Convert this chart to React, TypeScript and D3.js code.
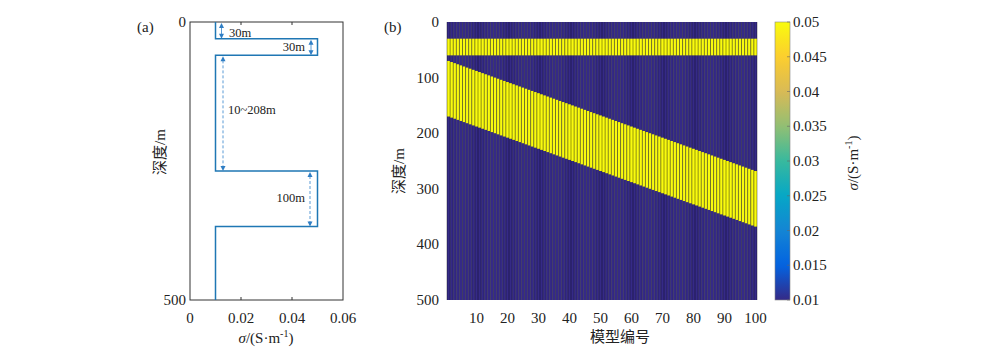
import React from "react";
import * as d3 from "d3";

// layered model (panel a): depth intervals and conductivity
const profileDepths = [0, 30, 30, 60, 60, 268, 268, 368, 368, 500];
const profileSigma = [0.01, 0.01, 0.05, 0.05, 0.01, 0.01, 0.05, 0.05, 0.01, 0.01];

const sigmaTicks = [0, 0.02, 0.04, 0.06];
const depthTicksA = [0, 500];
const depthTicksB = [0, 100, 200, 300, 400, 500];
const modelTicks = [10, 20, 30, 40, 50, 60, 70, 80, 90, 100];
const cbarTicks = [0.01, 0.015, 0.02, 0.025, 0.03, 0.035, 0.04, 0.045, 0.05];

// panel b: layer 1 fixed, layer 2 below a gap that grows with the model number
const layer1Top = 30;
const layer1Bottom = 60;
const layer2Thickness = 100;
const gaps = [
  10, 12, 14, 16, 18, 20, 22, 24, 26, 28, 30, 32, 34, 36, 38, 40, 42, 44, 46, 48,
  50, 52, 54, 56, 58, 60, 62, 64, 66, 68, 70, 72, 74, 76, 78, 80, 82, 84, 86, 88,
  90, 92, 94, 96, 98, 100, 102, 104, 106, 108, 110, 112, 114, 116, 118, 120, 122, 124, 126, 128,
  130, 132, 134, 136, 138, 140, 142, 144, 146, 148, 150, 152, 154, 156, 158, 160, 162, 164, 166, 168,
  170, 172, 174, 176, 178, 180, 182, 184, 186, 188, 190, 192, 194, 196, 198, 200, 202, 204, 206, 208,
];
const sigmaBg = 0.01;
const sigmaLayer = 0.05;

// parula stops
const parula = [
  "#352a87", "#0363e1", "#1485d4", "#06a7c6", "#38b99e",
  "#92bf73", "#d9ba56", "#fcce2e", "#f9fb0e",
];

const serif = "'Liberation Serif', 'Times New Roman', serif";
const cjk = "'Liberation Serif', 'Noto Sans CJK SC', serif";
const lineBlue = "#1f77b4";

function SigmaLabel({ x, y, rotate = 0 }: { x: number; y: number; rotate?: number }) {
  return (
    <text
      transform={`translate(${x},${y}) rotate(${rotate})`}
      textAnchor="middle"
      fontFamily={serif}
      fontSize={15}
      fill="#222"
    >
      <tspan fontStyle="italic">σ</tspan>
      <tspan>/(S·m</tspan>
      <tspan fontSize={10} dy={-6}>-1</tspan>
      <tspan dy={6}>)</tspan>
    </text>
  );
}

function Arrow({ x, y1, y2, dashed }: { x: number; y1: number; y2: number; dashed?: boolean }) {
  return (
    <g>
      <line
        x1={x}
        x2={x}
        y1={y1 + 4}
        y2={y2 - 4}
        stroke="#5b9bd5"
        strokeWidth={1}
        strokeDasharray={dashed ? "3,2" : undefined}
      />
      <path d={`M${x},${y1} L${x - 2.5},${y1 + 5} L${x + 2.5},${y1 + 5} Z`} fill="#2f7ec4" />
      <path d={`M${x},${y2} L${x - 2.5},${y2 - 5} L${x + 2.5},${y2 - 5} Z`} fill="#2f7ec4" />
    </g>
  );
}

function PanelA() {
  const x = d3.scaleLinear([0, 0.06], [190, 343]);
  const y = d3.scaleLinear([0, 500], [22, 300]);
  const line = d3
    .line<number>()
    .x((_, i) => x(profileSigma[i]))
    .y((d) => y(d));

  return (
    <g>
      <rect x={190} y={22} width={153} height={278} fill="#fff" stroke="#333" strokeWidth={1} />
      {sigmaTicks.slice(1, -1).map((t) => (
        <g key={t}>
          <line x1={x(t)} x2={x(t)} y1={300} y2={297} stroke="#333" />
          <line x1={x(t)} x2={x(t)} y1={22} y2={25} stroke="#333" />
        </g>
      ))}
      <path d={line(profileDepths) ?? ""} fill="none" stroke={lineBlue} strokeWidth={1.5} />

      <Arrow x={221.5} y1={y(0) + 1} y2={y(30)} />
      <Arrow x={311} y1={y(30) + 1} y2={y(60)} />
      <Arrow x={223} y1={y(60) + 1} y2={y(268)} dashed />
      <Arrow x={310} y1={y(268) + 1} y2={y(368)} dashed />
      <g fontFamily={serif} fontSize={12.5} fill="#222">
        <text x={229} y={37}>30m</text>
        <text x={305} y={51} textAnchor="end">30m</text>
        <text x={228} y={114}>10~208m</text>
        <text x={305} y={202} textAnchor="end">100m</text>
      </g>

      <g fontFamily={serif} fontSize={15} fill="#222">
        {sigmaTicks.map((t) => (
          <text key={t} x={x(t)} y={323} textAnchor="middle">{t}</text>
        ))}
        {depthTicksA.map((t) => (
          <text key={t} x={186} y={y(t) + 5} textAnchor="end">{t}</text>
        ))}
        <text x={137} y={32}>(a)</text>
      </g>
      <text
        transform="translate(165,152) rotate(-90)"
        textAnchor="middle"
        fontFamily={cjk}
        fontSize={15}
        fill="#222"
      >
        深度/m
      </text>
      <SigmaLabel x={266} y={343} />
    </g>
  );
}

function PanelB() {
  const x = d3.scaleLinear([0.5, 100.5], [447, 757]);
  const y = d3.scaleLinear([0, 500], [22, 300]);
  const color = d3
    .scaleLinear<string>()
    .domain(parula.map((_, i) => 0.01 + (0.04 * i) / (parula.length - 1)))
    .range(parula)
    .interpolate(d3.interpolateRgb)
    .clamp(true);
  const cy = d3.scaleLinear([0.01, 0.05], [300, 22]);
  const models = gaps.map((g, i) => {
    const top2 = layer1Bottom + g;
    return { id: i + 1, layers: [[layer1Top, layer1Bottom], [top2, top2 + layer2Thickness]] };
  });
  const cw = x(2) - x(1);
  const gradStops = d3.range(0, 1.0001, 0.02);

  return (
    <g>
      <defs>
        <linearGradient id="parula" x1="0" y1="1" x2="0" y2="0">
          {gradStops.map((s) => (
            <stop key={s} offset={s} stopColor={color(0.01 + 0.04 * s)} />
          ))}
        </linearGradient>
      </defs>
      {models.map((m) => (
        <g key={m.id}>
          <rect x={x(m.id) - cw / 2} y={22} width={cw} height={278} fill={color(sigmaBg)} />
          {m.layers.map(([a, b], k) => (
            <rect key={k} x={x(m.id) - cw / 2} y={y(a)} width={cw} height={y(b) - y(a)} fill={color(sigmaLayer)} />
          ))}
        </g>
      ))}
      {models.map((m) => (
        <line
          key={m.id}
          x1={x(m.id) - cw / 2}
          x2={x(m.id) - cw / 2}
          y1={22}
          y2={300}
          stroke="#000"
          strokeOpacity={0.55}
          strokeWidth={0.7}
        />
      ))}
      <line x1={757} x2={757} y1={22} y2={300} stroke="#000" strokeOpacity={0.55} strokeWidth={0.7} />

      <g fontFamily={serif} fontSize={15} fill="#222">
        {modelTicks.map((t) => (
          <text key={t} x={x(t)} y={323} textAnchor="middle">{t}</text>
        ))}
        {depthTicksB.map((t) => (
          <text key={t} x={439} y={y(t) + 5} textAnchor="end">{t}</text>
        ))}
        <text x={384} y={32}>(b)</text>
      </g>
      <text
        transform="translate(404,171) rotate(-90)"
        textAnchor="middle"
        fontFamily={cjk}
        fontSize={15}
        fill="#222"
      >
        深度/m
      </text>
      <text x={620} y={342} textAnchor="middle" fontFamily={cjk} fontSize={15} fill="#222">
        模型编号
      </text>

      {/* colorbar */}
      <rect x={775} y={22} width={15} height={278} fill="url(#parula)" stroke="#888" strokeWidth={0.6} />
      {cbarTicks.map((t) => (
        <g key={t}>
          <line x1={787} x2={790} y1={cy(t)} y2={cy(t)} stroke="#666" strokeWidth={0.6} />
          <text x={793} y={cy(t) + 5} fontFamily={serif} fontSize={15} fill="#222">{t}</text>
        </g>
      ))}
      <SigmaLabel x={858} y={163} rotate={-90} />
    </g>
  );
}

export default function App() {
  return (
    <div style={{ position: "absolute", left: 0, top: 0 }}>
      <svg width={1000} height={353} style={{ display: "block", background: "#fff" }}>
        <PanelA />
        <PanelB />
      </svg>
    </div>
  );
}
